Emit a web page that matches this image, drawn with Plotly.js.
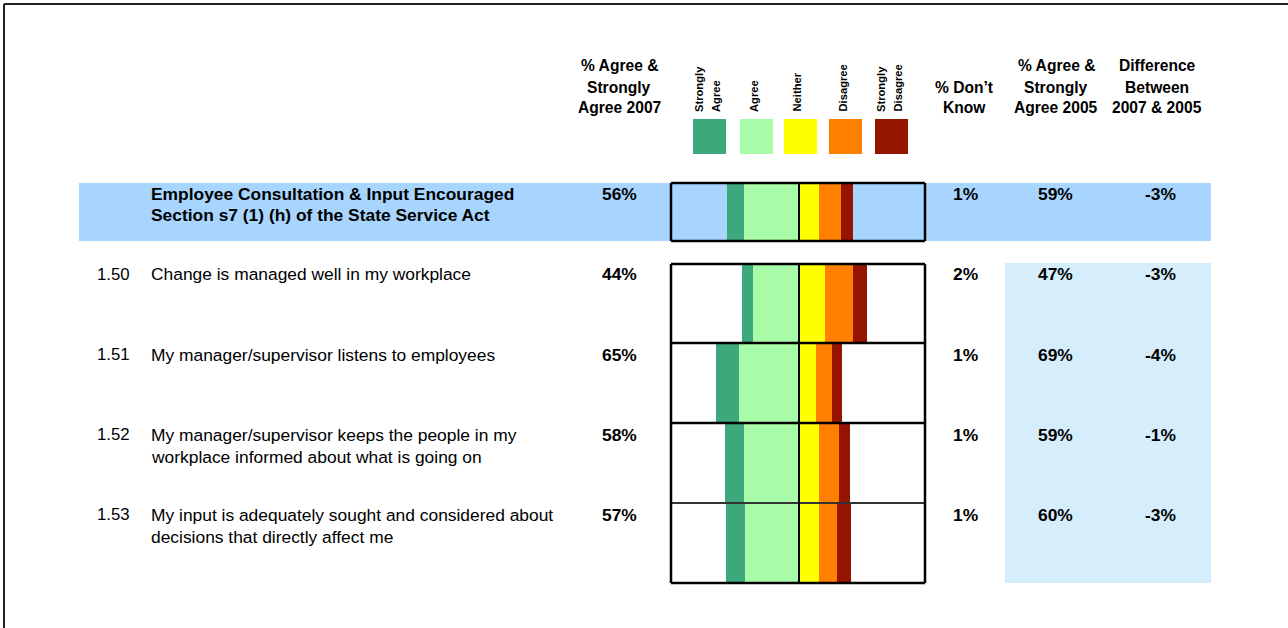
<!DOCTYPE html>
<html>
<head>
<meta charset="utf-8">
<script src="https://cdn.plot.ly/plotly-3.0.1.min.js"></script>
<style>html,body{margin:0;padding:0;background:#fff;}#chart{width:1288px;height:628px;}</style>
</head>
<body>
<div id="chart"></div>
<script>
// ---- data ----
const rowIds = ['', '1.50', '1.51', '1.52', '1.53'];
const questions = [
  'Employee Consultation & Input Encouraged\nSection s7 (1) (h) of the State Service Act',
  'Change is managed well in my workplace',
  'My manager/supervisor listens to employees',
  'My manager/supervisor keeps the people in my\nworkplace informed about what is going on',
  'My input is adequately sought and considered about\ndecisions that directly affect me'
];
const stronglyAgree    = [13, 8, 18, 15, 15];
const agree            = [43, 36, 47, 43, 42];
const neither          = [16, 21, 14, 16, 16];
const disagree         = [17, 22, 12, 16, 14];
const stronglyDisagree = [10, 11, 8, 8, 11];
const agree2007 = ['56%', '44%', '65%', '58%', '57%'];
const dontKnow  = ['1%', '2%', '1%', '1%', '1%'];
const agree2005 = ['59%', '47%', '69%', '59%', '60%'];
const diff0705  = ['-3%', '-3%', '-4%', '-1%', '-3%'];
const categories = ['Strongly\nAgree', 'Agree', 'Neither', 'Disagree', 'Strongly\nDisagree'];
const colors = ['#3DA87B', '#A8FCA8', '#FFFF00', '#FF7F00', '#941400'];

// ---- layout geometry ----
const W = 1288, H = 628;
const L = 671, R = 926;
const PW = R - L;
const X = px => (px - L) / PW;
const Y = py => 1 - py / H;
const rowTop = [183, 263, 343, 423, 503];
const rowH = [58, 80, 80, 80, 80];
const rowMid = rowTop.map((t, i) => t + rowH[i] / 2);
const FONT = 'Arial, "Liberation Sans", sans-serif';

function barTrace(vals, sign, color) {
  return {
    type: 'bar', orientation: 'h',
    x: vals.map(v => sign * v), y: rowMid, width: rowH,
    marker: {color: color, line: {width: 0}},
    hoverinfo: 'skip', showlegend: false
  };
}
const traces = [
  barTrace(agree, -1, colors[1]),
  barTrace(stronglyAgree, -1, colors[0]),
  barTrace(neither, 1, colors[2]),
  barTrace(disagree, 1, colors[3]),
  barTrace(stronglyDisagree, 1, colors[4])
];

const annotations = [];
function txt(text, px, py, size, bold, xanchor, lineGap) {
  const lines = text.split('\n');
  lines.forEach((ln, i) => {
    annotations.push({
      text: bold ? '<b>' + ln + '</b>' : ln,
      x: X(px), y: Y(py + i * (lineGap || 21)), xref: 'paper', yref: 'paper',
      xanchor: xanchor || 'center', yanchor: 'middle', showarrow: false,
      font: {family: FONT, size: size, color: '#000'}
    });
  });
}

// header column titles
txt('% Agree &\nStrongly\nAgree 2007', 619, 66, 15.6, true, 'center', 21);
txt('% Don\u2019t\nKnow', 964, 87, 15.6, true, 'center', 21);
txt('% Agree &\nStrongly\nAgree 2005', 1056, 66, 15.6, true, 'center', 21);
txt('Difference\nBetween\n2007 & 2005', 1157, 66, 15.6, true, 'center', 21);

// rotated legend labels
const legX = [[699, 716], [754], [797], [843], [881, 898]];
categories.forEach((c, i) => {
  c.split('\n').forEach((ln, j) => {
    annotations.push({
      text: '<b>' + ln + '</b>', textangle: -90,
      x: X(legX[i][j]), y: Y(114), xref: 'paper', yref: 'paper',
      xanchor: 'center', yanchor: 'bottom', showarrow: false,
      font: {family: FONT, size: 11.2, color: '#000'}
    });
  });
});

// rows text
rowIds.forEach((id, i) => {
  const top = rowTop[i] + 11.5;
  const hdr = i === 0;
  if (id) txt(id, 132, top, 16.8, false, 'right');
  txt(questions[i], 149, top, 17.4, hdr, 'left', hdr ? 20.5 : 22);
  txt(agree2007[i], 619, top, 17.4, true, 'center');
  txt(dontKnow[i], 965, top, 17.4, true, 'center');
  txt(agree2005[i], 1055, top, 17.4, true, 'center');
  txt(diff0705[i], 1160, top, 17.4, true, 'center');
});

// shapes
const shapes = [];
function rect(x0, y0, x1, y1, fill, layer) {
  shapes.push({type: 'rect', xref: 'paper', yref: 'paper', x0: X(x0), x1: X(x1), y0: Y(y0), y1: Y(y1),
    fillcolor: fill, line: {width: 0}, layer: layer || 'below'});
}
function line(x0, y0, x1, y1, w, c) {
  shapes.push({type: 'line', xref: 'paper', yref: 'paper', x0: X(x0), x1: X(x1), y0: Y(y0), y1: Y(y1),
    line: {width: w, color: c || '#000'}, layer: 'above'});
}
// header band and 2005 column background
rect(79, 183, 1211, 241, '#A8D5FE');
rect(1005, 263, 1211, 583, '#D6EDFC');
// legend squares
const legSq = [[693, 726], [740, 773], [784, 817], [829, 862], [875, 908]];
legSq.forEach((s, i) => rect(s[0], 119, s[1], 154, colors[i]));
// header box
line(L, 183, R - 1, 183, 2.5); line(L, 241, R - 1, 241, 2.5);
line(L, 183, L, 241, 2.5); line(R - 1, 183, R - 1, 241, 2.5);
line(799, 183, 799, 241, 2);
// rows boxes
line(L, 264, R - 1, 264, 2.5);
line(L, 343, R - 1, 343, 2.5);
line(L, 423, R - 1, 423, 2.5);
line(L, 503, R - 1, 503, 2, '#333');
line(L, 583, R - 1, 583, 2.5);
line(L, 264, L, 583, 2.5); line(R - 1, 264, R - 1, 583, 2.5);
line(799, 264, 799, 583, 2);
// outer frame (top and left)
line(4, 4, W, 4, 2, '#222');
line(4, 4, 4, H, 2, '#222');

const layout = {
  width: W, height: H,
  margin: {l: L, r: W - R, t: 0, b: 0, pad: 0},
  paper_bgcolor: '#fff', plot_bgcolor: 'rgba(0,0,0,0)',
  barmode: 'relative', bargap: 0,
  xaxis: {range: [-100, 100], visible: false, fixedrange: true},
  yaxis: {range: [H, 0], visible: false, fixedrange: true},
  showlegend: false,
  annotations: annotations, shapes: shapes
};
Plotly.newPlot('chart', traces, layout, {displayModeBar: false, staticPlot: true});
</script>
</body>
</html>
